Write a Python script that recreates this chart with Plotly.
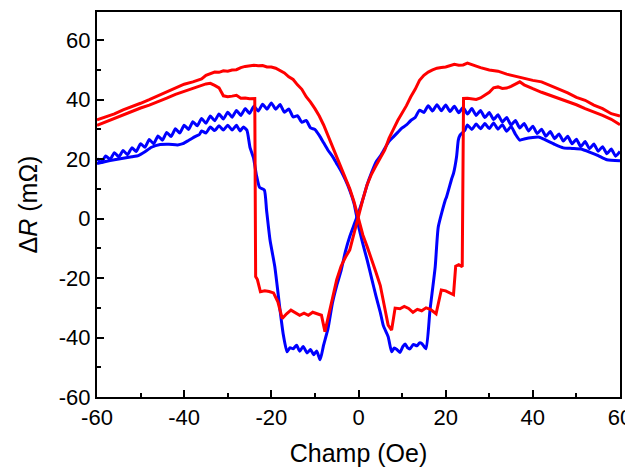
import plotly.graph_objects as go

# ---- Red, field swept down (+60 -> -60) ----
red_down_x = [60, 58, 56, 54, 52, 50, 48, 46, 44, 42, 40, 38, 36, 34, 32, 30, 28, 26, 25, 24, 23, 22, 21, 20, 19, 18, 17, 16, 15, 14, 13, 12, 11, 10, 9, 8, 7, 6, 5, 4, 3, 2, 1, 0, -1, -2, -3, -4, -5, -6, -7, -7.7, -8.5, -9.5, -10.5, -11.5, -12.5, -13.5, -14.5, -15.5, -16.5, -17.5, -18.5, -19.5, -20.5, -21.5, -22.5, -23.2, -23.6, -23.8, -25, -26, -27, -28, -29, -30, -31, -32, -33, -34, -35, -36, -37, -38, -40, -42, -44, -46, -48, -50, -52, -54, -56, -58, -60]
red_down_y = [34.5, 35.3, 37.0, 38.2, 39.8, 40.8, 42.3, 43.5, 44.6, 46.0, 46.5, 47.2, 47.8, 48.6, 49.6, 50.0, 50.8, 51.8, 52.3, 51.7, 51.6, 51.9, 51.4, 51.0, 50.8, 50.6, 50.0, 49.3, 48.2, 46.5, 43.5, 41.0, 38.0, 35.5, 33.0, 30.0, 27.0, 23.0, 20.5, 17.8, 15.0, 11.5, 6.5, 0.5, -5.5, -10.5, -13.0, -16.0, -20.5, -27.0, -33.5, -38.0, -32.5, -32.0, -31.5, -32.5, -31.8, -32.5, -31.5, -30.8, -32.0, -33.6, -28.0, -25.0, -24.5, -24.3, -24.6, -20.5, -19.5, 40.4, 40.3, 40.6, 40.5, 41.5, 41.2, 41.0, 41.3, 44.0, 44.8, 45.5, 45.3, 44.8, 44.5, 44.0, 43.0, 41.8, 40.5, 39.3, 38.2, 37.2, 36.0, 34.8, 33.6, 32.5, 31.4]

# ---- Red, field swept up (-60 -> +60) ----
red_up_x = [-60, -58, -56, -54, -52, -50, -48, -46, -44, -42, -40, -38, -36, -35, -34, -33, -32, -31, -30, -29, -28, -27, -26, -25, -24, -23, -22, -21, -20, -19, -18, -17, -16, -15, -14, -13, -12, -11, -10, -9, -8, -7, -6, -5, -4, -3, -2, -1, 0, 1, 2, 3, 4, 5, 5.7, 6.8, 7.6, 8.4, 9.5, 10.5, 11.5, 12.5, 13.5, 14.5, 15.5, 16.5, 17.8, 19.0, 20.0, 21.0, 21.8, 22.3, 23.0, 23.8, 24.1, 25, 26, 27, 28, 29, 30, 31, 32, 33, 34, 35, 36, 37, 38, 39, 40, 42, 44, 46, 48, 50, 52, 54, 56, 58, 60]
red_up_y = [33.2, 34.2, 35.2, 36.6, 37.6, 38.8, 40.0, 41.3, 42.7, 43.8, 45.2, 46.0, 47.0, 48.2, 48.8, 49.3, 49.2, 49.7, 49.6, 50.0, 50.1, 50.8, 51.2, 51.3, 51.6, 51.4, 51.5, 51.0, 51.0, 50.6, 49.9, 49.0, 47.7, 46.8, 45.0, 43.5, 41.0, 39.2, 37.0, 34.5, 31.5, 28.0, 24.0, 21.0, 17.5, 14.0, 10.0, 5.5, -0.5, -5.5, -9.5, -13.5, -18.0, -22.5, -27.4, -35.8, -37.5, -30.1, -30.3, -29.5, -30.2, -31.5, -30.5, -31.0, -30.0, -30.5, -32.0, -24.0, -24.3, -25.0, -25.6, -16.0, -15.5, -16.2, 40.4, 40.5, 40.2, 40.1, 40.6, 41.5, 42.5, 44.0, 44.3, 43.8, 43.9, 44.5, 45.2, 46.0, 45.0, 44.3, 43.7, 42.5, 41.5, 40.4, 39.5, 38.3, 37.0, 35.9, 34.7, 33.4, 31.6]

# ---- Blue, field swept down (+60 -> -60) ----
blue_down_x = [60, 59, 58, 57, 56, 55, 54, 53, 52, 51, 50, 49, 48, 47, 46, 45, 44, 43, 42, 41, 40, 39, 38, 37, 36, 35, 34, 33, 32, 31, 30, 29, 28, 27, 26, 25, 24, 23, 22, 21, 20, 19, 18, 17, 16, 15, 14, 13, 12, 11, 10, 9, 8, 7, 6, 5, 4, 3, 2, 1, 0, -1, -2, -3, -4, -5, -6, -7, -8, -8.8, -9.6, -10.3, -11, -11.8, -12.7, -13.5, -14.2, -15, -15.7, -16.4, -17.3, -18, -19.2, -20.3, -21.1, -21.6, -22.7, -23.4, -24.1, -24.9, -25.6, -26.4, -27.2, -28, -29, -30, -31, -32, -33, -34, -35, -36, -36.5, -37.5, -39, -40.3, -41.5, -43.5, -45.5, -47.5, -49, -50.5, -52, -54, -56, -58, -60]
blue_down_y = [22.6, 21.0, 23.4, 21.8, 24.2, 22.7, 25.1, 23.5, 25.9, 24.2, 26.7, 25.2, 27.7, 26.1, 28.5, 26.9, 29.3, 27.7, 30.1, 28.6, 31.1, 29.5, 32.0, 30.5, 33.0, 31.5, 34.0, 32.5, 34.9, 33.3, 35.7, 34.0, 36.4, 34.7, 37.0, 35.2, 37.4, 35.6, 37.8, 36.0, 38.2, 36.3, 38.3, 36.2, 38.0, 35.7, 36.5, 34.0, 33.0, 31.5, 30.5, 29.0, 27.5, 26.0, 23.5, 21.0, 19.0, 15.5, 11.5, 6.5, 2.0, -2.0, -6.0, -11.0, -17.5, -22.5, -28.5, -37.0, -42.5, -47.5, -44.5, -45.8, -44.0, -45.2, -43.0, -44.6, -42.6, -43.8, -43.4, -44.8, -38.6, -30.8, -16.2, -7.2, 2.9, 9.6, 10.5, 14.5, 20.5, 24.0, 29.7, 30.8, 29.5, 31.4, 29.8, 31.4, 29.8, 31.2, 29.6, 30.8, 28.8, 29.5, 28.3, 27.6, 26.3, 25.2, 24.8, 25.0, 24.9, 24.0, 22.5, 21.2, 20.8, 20.3, 19.8, 19.2, 18.5]

# ---- Blue, field swept up (-60 -> +60) ----
blue_up_x = [-60, -59, -58, -57, -56, -55, -54, -53, -52, -51, -50, -49, -48, -47, -46, -45, -44, -43, -42, -41, -40, -39, -38, -37, -36, -35, -34, -33, -32, -31, -30, -29, -28, -27, -26, -25, -24, -23, -22, -21, -20, -19, -18, -17, -16, -15, -14, -13, -12, -11, -10, -9, -8, -7, -6, -5, -4, -3, -2, -1, 0, 1, 2, 3, 4, 5, 5.7, 6.8, 7.6, 8.2, 8.8, 9.5, 10.2, 10.7, 11.3, 11.8, 12.6, 13.4, 14.0, 14.5, 15.5, 16.4, 17.6, 18.3, 19.9, 20.2, 21.4, 21.8, 22.5, 22.9, 23.3, 24.4, 25, 26, 27, 28, 29, 30, 31, 32, 33, 34, 35, 36, 37, 38, 40, 41.5, 43, 45, 47, 49, 51, 53, 55, 57, 60]
blue_up_y = [20.2, 18.9, 21.1, 19.9, 22.2, 20.8, 22.9, 21.5, 23.8, 22.6, 25.2, 24.0, 26.6, 25.2, 27.8, 26.4, 29.0, 27.6, 30.2, 28.8, 31.4, 30.0, 32.6, 31.2, 33.7, 32.1, 34.5, 32.9, 35.2, 33.5, 35.8, 34.1, 36.4, 34.7, 37.0, 35.4, 37.8, 36.2, 38.5, 36.8, 38.9, 36.8, 38.4, 35.8, 36.9, 34.2, 34.6, 32.4, 33.0, 30.5, 30.0, 28.0, 25.5, 23.0, 21.0, 18.5, 16.0, 13.0, 9.5, 5.0, -2.5, -8.5, -14.0, -20.0, -26.0, -31.5, -36.0, -39.7, -44.8, -43.5, -44.0, -45.0, -43.0, -42.2, -43.5, -43.8, -42.3, -42.8, -41.8, -42.0, -43.8, -30.8, -16.2, -2.8, 6.2, 7.3, 13.5, 15.2, 20.8, 26.4, 28.1, 29.7, 31.5, 30.0, 31.8, 30.2, 32.0, 30.3, 32.2, 30.1, 31.6, 29.4, 31.0, 28.4, 26.4, 26.8, 27.3, 27.4, 26.4, 25.0, 23.8, 23.6, 23.4, 22.4, 21.2, 19.8, 19.5]

x_ticks = [-60, -40, -20, 0, 20, 40, 60]
x_tick_labels = ["-60", "-40", "-20", "0", "20", "40", "60"]
y_ticks = [-60, -40, -20, 0, 20, 40, 60]
y_tick_labels = ["-60", "-40", "-20", "0", "20", "40", "60"]

BLUE = "#0000ff"
RED = "#ff0000"
FONT = "Liberation Sans, Arial, sans-serif"

fig = go.Figure()
fig.add_trace(go.Scatter(x=blue_down_x, y=blue_down_y, mode="lines",
                         line=dict(color=BLUE, width=3, shape="spline", smoothing=0.5)))
fig.add_trace(go.Scatter(x=blue_up_x, y=blue_up_y, mode="lines",
                         line=dict(color=BLUE, width=3, shape="spline", smoothing=0.5)))
fig.add_trace(go.Scatter(x=red_down_x, y=red_down_y, mode="lines",
                         line=dict(color=RED, width=3)))
fig.add_trace(go.Scatter(x=red_up_x, y=red_up_y, mode="lines",
                         line=dict(color=RED, width=3)))

axis_common = dict(
    showgrid=False, zeroline=False, showline=True, linecolor="black",
    linewidth=2, mirror=True, ticks="inside", ticklen=7, tickwidth=1.5,
    tickcolor="black", automargin=False,
    tickfont=dict(family=FONT, size=22, color="black"),
)

# The page body adds an 8 px offset, so margins are shifted to compensate.
fig.update_layout(
    width=633, height=468,
    margin=dict(l=89, r=21, t=4, b=79),
    paper_bgcolor="white", plot_bgcolor="white",
    showlegend=False,
    font=dict(family=FONT, color="black"),
    xaxis=dict(range=[-60, 60], tickvals=x_ticks, ticktext=x_tick_labels,
               minor=dict(dtick=10, ticks="inside", ticklen=4, tickwidth=1.5, tickcolor="black"),
               title=dict(text="Champ (Oe)", font=dict(size=25), standoff=15),
               **axis_common),
    yaxis=dict(range=[-60, 69.5], tickvals=y_ticks, ticktext=y_tick_labels,
               minor=dict(dtick=10, ticks="inside", ticklen=4, tickwidth=1.5, tickcolor="black"),
               title=dict(text="Δ<i>R</i> (mΩ)", font=dict(size=25), standoff=14),
               **axis_common),
)

fig.write_html("out.html")
